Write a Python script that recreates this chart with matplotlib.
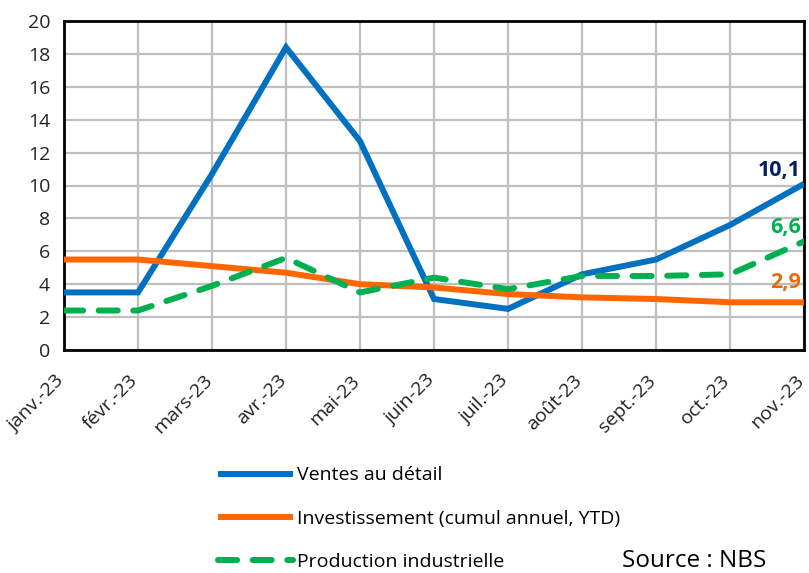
import numpy as np
import matplotlib.pyplot as plt
import matplotlib.transforms as mtransforms

plt.rcParams["font.family"] = ["Open Sans", "DejaVu Sans"]

months = ["janv.-23", "févr.-23", "mars-23", "avr.-23", "mai-23", "juin-23",
          "juil.-23", "août-23", "sept.-23", "oct.-23", "nov.-23"]
ventes = [3.5, 3.5, 10.7, 18.4, 12.7, 3.1, 2.5, 4.6, 5.5, 7.6, 10.1]
invest = [5.5, 5.5, 5.1, 4.7, 4.0, 3.8, 3.4, 3.2, 3.1, 2.9, 2.9]
prod = [2.4, 2.4, 3.9, 5.6, 3.5, 4.4, 3.7, 4.5, 4.5, 4.6, 6.6]
end_labels = ["10,1", "2,9", "6,6"]

fig = plt.figure(figsize=(8.09, 5.73), dpi=100)
ax = fig.add_axes([64 / 809, 1 - 350 / 573, 740 / 809, 329 / 573])

x = np.arange(len(months))
l1, = ax.plot(x, ventes, color="#0070C0", lw=4.3, solid_capstyle="butt",
              solid_joinstyle="miter", label="Ventes au détail", zorder=3)
l2, = ax.plot(x, invest, color="#FF6600", lw=4.3, solid_capstyle="butt",
              label="Investissement (cumul annuel, YTD)", zorder=3)
l3, = ax.plot(x, prod, color="#00B050", lw=4.3, linestyle=(0, (3.2, 2.6)),
              dash_capstyle="round", label="Production industrielle", zorder=3)

ax.set_xlim(0, len(months) - 1)
ax.set_ylim(0, 20)
ax.set_yticks(np.arange(0, 21, 2))
ax.set_xticks(x)
ax.set_xticklabels(months, rotation=45, ha="right", rotation_mode="anchor",
                   fontsize=14)
ax.tick_params(axis="both", length=0, colors="#222222")
ax.tick_params(axis="y", labelsize=14, pad=10)
ax.tick_params(axis="x", pad=4)
# nudge the slanted month labels down
shift = mtransforms.ScaledTranslation(-9 / 100, -16 / 100, fig.dpi_scale_trans)
for lab in ax.get_xticklabels():
    lab.set_transform(lab.get_transform() + shift)
ax.grid(True, color="#BFBFBF", lw=1.6)
ax.set_axisbelow(True)
for s in ax.spines.values():
    s.set_linewidth(2)
    s.set_color("black")

# end-of-series labels
ax.annotate(end_labels[0], (x[-1], ventes[-1]), xytext=(-3, 13),
            textcoords="offset pixels", ha="right", va="center",
            fontsize=15.5, fontweight="bold", color="#002060")
ax.annotate(end_labels[2], (x[-1], prod[-1]), xytext=(-3, 14),
            textcoords="offset pixels", ha="right", va="center",
            fontsize=15.5, fontweight="bold", color="#00B050")
ax.annotate(end_labels[1], (x[-1], invest[-1]), xytext=(-3, 20),
            textcoords="offset pixels", ha="right", va="center",
            fontsize=15.5, fontweight="bold", color="#E36C09")

fig.legend(handles=[l1, l2, l3], loc="upper left",
           bbox_to_anchor=(200 / 809, 1 - 449 / 573), frameon=False,
           fontsize=14, handlelength=3.9, handletextpad=0.2,
           labelspacing=1.3)

fig.text(622 / 809, 1 - 567 / 573, "Source : NBS", fontsize=17.5,
         va="baseline", ha="left")

fig.savefig("out.png", dpi=100)
